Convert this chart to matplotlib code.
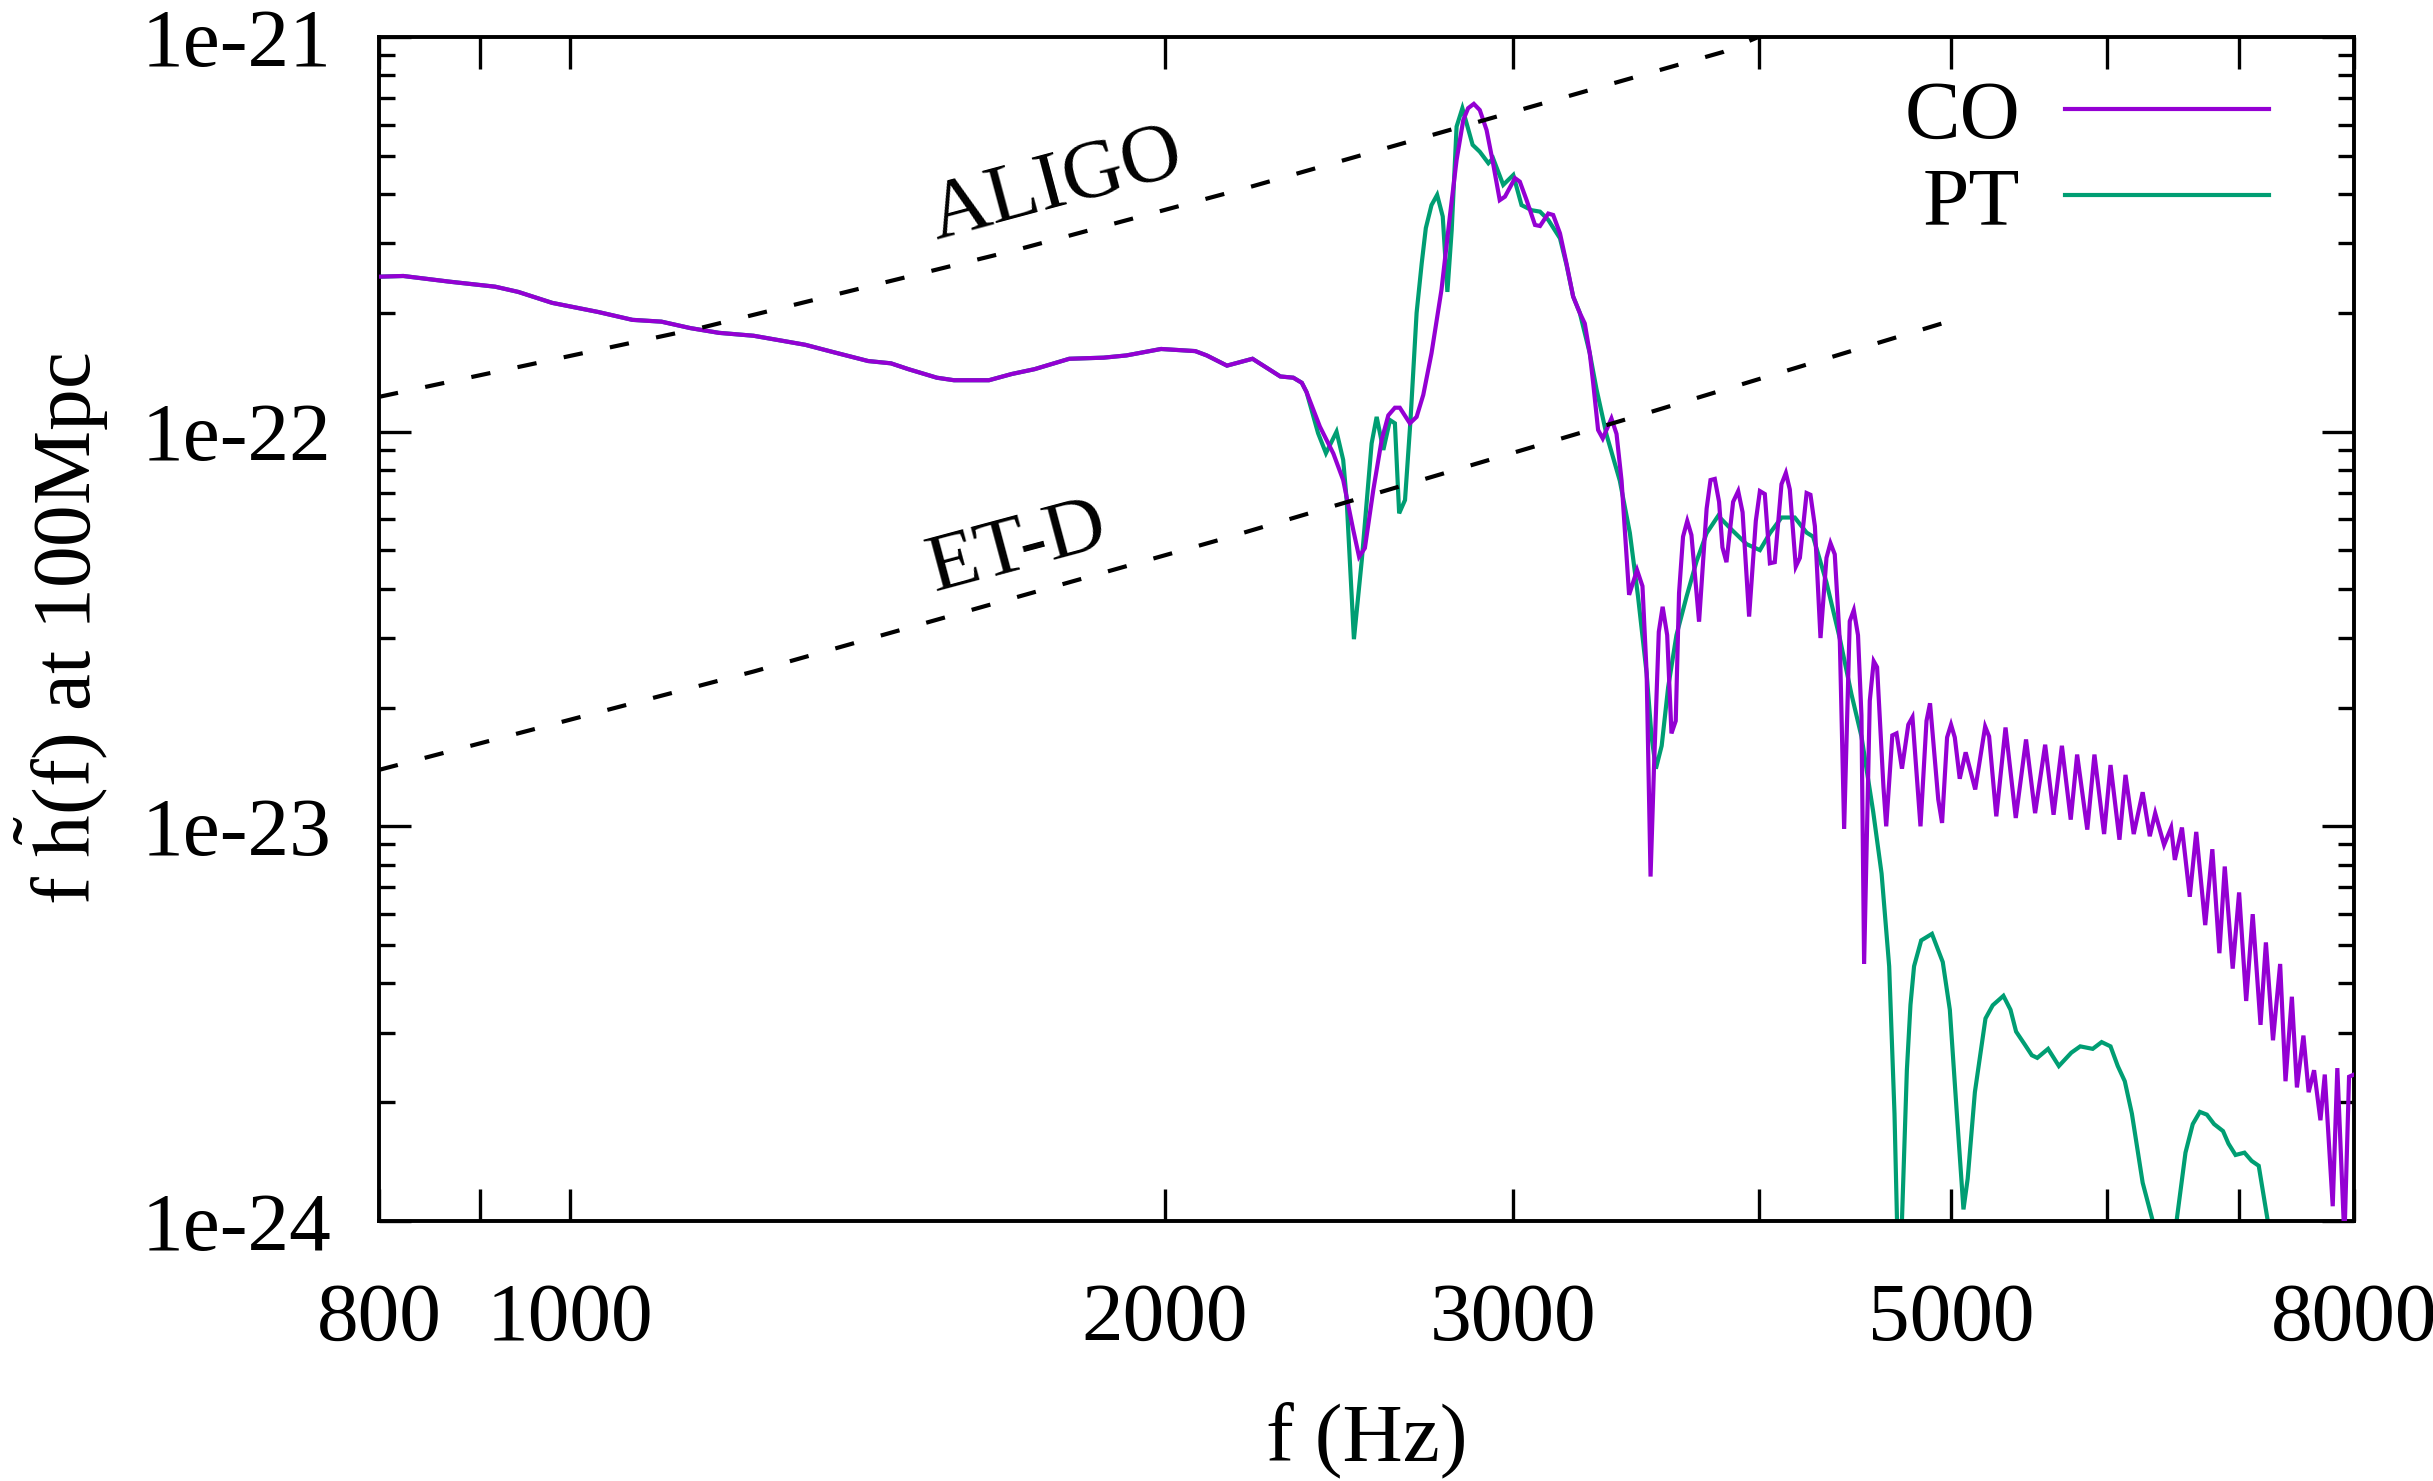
import matplotlib
matplotlib.use('Agg')
import matplotlib.pyplot as plt
from matplotlib.ticker import FixedLocator, FixedFormatter, LogLocator, NullFormatter, NullLocator

plt.rcParams['font.family'] = ['Liberation Serif', 'DejaVu Serif']
plt.rcParams['mathtext.fontset'] = 'stix'

# ---------------- data ----------------
# part shared by both models (f in Hz, f*h(f))
low_f = [800, 823, 868, 916, 941, 979, 1033, 1075, 1112, 1150,
         1189, 1238, 1280, 1315, 1359, 1415, 1453, 1483, 1533, 1564,
         1629, 1673, 1718, 1789, 1862, 1912, 1991, 2072, 2100, 2150,
         2215, 2288, 2323, 2346, 2359]
low_h = [2.47e-22, 2.48e-22, 2.40e-22, 2.33e-22, 2.26e-22, 2.12e-22, 2.01e-22, 1.92e-22, 1.90e-22, 1.83e-22,
         1.78e-22, 1.75e-22, 1.70e-22, 1.66e-22, 1.59e-22, 1.51e-22, 1.49e-22, 1.44e-22, 1.37e-22, 1.35e-22,
         1.35e-22, 1.40e-22, 1.44e-22, 1.53e-22, 1.54e-22, 1.56e-22, 1.62e-22, 1.60e-22, 1.56e-22, 1.47e-22,
         1.53e-22, 1.38e-22, 1.37e-22, 1.33e-22, 1.26e-22]

co_tail_f = [2396, 2434, 2462, 2491, 2508,
             2525, 2550, 2575, 2595, 2615, 2630, 2661, 2682, 2703, 2729,
             2761, 2788, 2810, 2832, 2848, 2867, 2887, 2910, 2932, 2955,
             2973, 3008, 3025, 3049, 3079, 3097, 3127, 3145, 3170, 3194,
             3219, 3244, 3263, 3282, 3295, 3314, 3332, 3366, 3386, 3406,
             3436, 3468, 3490, 3507, 3523, 3537, 3557, 3573, 3592, 3610,
             3628, 3642, 3659, 3677, 3695, 3728, 3761, 3778, 3797, 3816,
             3831, 3849, 3879, 3902, 3922, 3952, 3983, 4002, 4025, 4049,
             4072, 4104, 4125, 4144, 4173, 4193, 4226, 4245, 4267, 4295,
             4325, 4345, 4367, 4393, 4415, 4444, 4465, 4487, 4505, 4519,
             4549, 4570, 4588, 4622, 4637, 4670, 4693, 4723, 4758, 4781,
             4826, 4860, 4880, 4927, 4949, 4978, 5001, 5023, 5052, 5087,
             5144, 5204, 5228, 5272, 5329, 5393, 5458, 5516, 5581, 5636,
             5691, 5750, 5793, 5862, 5911, 5978, 6023, 6086, 6129, 6188,
             6253, 6305, 6345, 6411, 6464, 6492, 6546, 6606, 6656, 6726,
             6782, 6838, 6881, 6945, 6997, 7055, 7109, 7174, 7219, 7279,
             7340, 7386, 7441, 7485, 7542, 7588, 7636, 7693, 7732, 7804,
             7846, 7911, 7954, 8000]
co_tail_h = [1.03e-22, 8.8e-23, 7.54e-23, 5.64e-23, 4.82e-23,
             5.07e-23, 7.12e-23, 9.53e-23, 1.10e-22, 1.15e-22, 1.15e-22, 1.05e-22, 1.09e-22, 1.24e-22, 1.58e-22,
             2.29e-22, 3.51e-22, 4.88e-22, 6.16e-22, 6.60e-22, 6.77e-22, 6.53e-22, 5.81e-22, 4.79e-22, 3.86e-22,
             3.94e-22, 4.39e-22, 4.30e-22, 3.86e-22, 3.34e-22, 3.32e-22, 3.57e-22, 3.54e-22, 3.18e-22, 2.67e-22,
             2.20e-22, 2.00e-22, 1.88e-22, 1.58e-22, 1.33e-22, 1.01e-22, 9.61e-23, 1.08e-22, 9.87e-23, 7.51e-23,
             3.86e-23, 4.46e-23, 4.06e-23, 2.44e-23, 7.46e-24, 1.40e-23, 3.11e-23, 3.60e-23, 3.05e-23, 1.72e-23,
             1.85e-23, 3.90e-23, 5.42e-23, 5.94e-23, 5.47e-23, 3.30e-23, 6.38e-23, 7.54e-23, 7.59e-23, 6.64e-23,
             5.09e-23, 4.67e-23, 6.64e-23, 7.07e-23, 6.25e-23, 3.40e-23, 5.94e-23, 7.07e-23, 6.95e-23, 4.64e-23,
             4.67e-23, 7.36e-23, 7.86e-23, 7.14e-23, 4.55e-23, 4.79e-23, 6.99e-23, 6.92e-23, 5.76e-23, 3.00e-23,
             4.79e-23, 5.22e-23, 4.89e-23, 2.93e-23, 9.85e-24, 3.31e-23, 3.53e-23, 3.05e-23, 1.91e-23, 4.48e-24,
             2.08e-23, 2.62e-23, 2.53e-23, 1.26e-23, 1.00e-23, 1.70e-23, 1.72e-23, 1.40e-23, 1.81e-23, 1.89e-23,
             1.00e-23, 1.85e-23, 2.05e-23, 1.17e-23, 1.02e-23, 1.68e-23, 1.81e-23, 1.68e-23, 1.32e-23, 1.54e-23,
             1.24e-23, 1.79e-23, 1.69e-23, 1.06e-23, 1.78e-23, 1.05e-23, 1.66e-23, 1.08e-23, 1.61e-23, 1.07e-23,
             1.60e-23, 1.04e-23, 1.52e-23, 9.81e-24, 1.52e-23, 9.56e-24, 1.43e-23, 9.25e-24, 1.35e-23, 9.56e-24,
             1.22e-23, 9.44e-24, 1.08e-23, 8.97e-24, 9.93e-24, 8.22e-24, 9.93e-24, 6.63e-24, 9.68e-24, 5.62e-24,
             8.75e-24, 4.77e-24, 7.91e-24, 4.36e-24, 6.80e-24, 3.61e-24, 5.99e-24, 3.14e-24, 5.08e-24, 2.87e-24,
             4.48e-24, 2.26e-24, 3.70e-24, 2.18e-24, 2.95e-24, 2.12e-24, 2.41e-24, 1.80e-24, 2.35e-24, 1.09e-24,
             2.44e-24, 9.0e-25, 2.32e-24, 2.35e-24]

pt_tail_f = [2391, 2413, 2443, 2462, 2472, 2493, 2516, 2545, 2560, 2580,
             2600, 2615, 2628, 2646, 2663, 2682, 2698, 2711, 2729, 2747,
             2765, 2780, 2794, 2810, 2829, 2843, 2863, 2887, 2916, 2932,
             2967, 3002, 3031, 3067, 3097, 3127, 3170, 3194, 3219, 3244,
             3282, 3308, 3347, 3399, 3439, 3472, 3507, 3527, 3545, 3569, 3596,
             3631, 3674, 3717, 3761, 3812, 3873, 3940, 4002, 4049, 4104,
             4168, 4226, 4258, 4325, 4393, 4453, 4505, 4567, 4612, 4653,
             4682, 4707, 4750, 4770, 4790, 4830, 4891, 4953, 4994, 5035,
             5074, 5099, 5142, 5206, 5250, 5316, 5360, 5395, 5450, 5495,
             5530, 5600, 5671, 5754, 5814, 5899, 5961, 6023, 6074, 6124,
             6175, 6253, 6327, 6400, 6480, 6505, 6573, 6629, 6684, 6739,
             6796, 6867, 6911, 6968, 7041, 7100, 7159, 7235, 7300, 8000]
pt_tail_h = [9.91e-23, 8.82e-23, 1.00e-22, 8.48e-23, 6.71e-23, 2.98e-23, 4.73e-23, 9.34e-23, 1.09e-22, 8.99e-23,
             1.07e-22, 1.05e-22, 6.21e-23, 6.71e-23, 1.07e-22, 2.00e-22, 2.67e-22, 3.28e-22, 3.75e-22, 3.98e-22,
             3.51e-22, 2.26e-22, 3.24e-22, 5.93e-22, 6.60e-22, 6.04e-22, 5.33e-22, 5.12e-22, 4.79e-22, 4.93e-22,
             4.22e-22, 4.47e-22, 3.75e-22, 3.64e-22, 3.61e-22, 3.44e-22, 3.09e-22, 2.65e-22, 2.20e-22, 2.00e-22,
             1.58e-22, 1.28e-22, 9.81e-23, 7.51e-23, 5.54e-23, 3.82e-23, 2.44e-23, 1.69e-23, 1.40e-23, 1.60e-23, 2.25e-23,
             3.05e-23, 3.82e-23, 4.69e-23, 5.53e-23, 6.12e-23, 5.64e-23, 5.19e-23, 5.01e-23, 5.53e-23, 6.06e-23,
             6.06e-23, 5.55e-23, 5.42e-23, 4.15e-23, 2.99e-23, 2.16e-23, 1.69e-23, 1.09e-23, 7.59e-24, 4.42e-24,
             1.87e-24, 6.0e-25, 2.41e-24, 3.53e-24, 4.42e-24, 5.14e-24, 5.34e-24, 4.53e-24, 3.43e-24, 1.87e-24,
             1.07e-24, 1.28e-24, 2.12e-24, 3.26e-24, 3.52e-24, 3.72e-24, 3.43e-24, 3.02e-24, 2.80e-24, 2.63e-24,
             2.59e-24, 2.73e-24, 2.47e-24, 2.67e-24, 2.77e-24, 2.73e-24, 2.84e-24, 2.77e-24, 2.47e-24, 2.26e-24,
             1.87e-24, 1.25e-24, 1.0e-24, 4.0e-25, 4.0e-25, 1.0e-24, 1.49e-24, 1.76e-24, 1.89e-24, 1.86e-24,
             1.76e-24, 1.69e-24, 1.57e-24, 1.47e-24, 1.49e-24, 1.42e-24, 1.38e-24, 1.0e-24, 5.0e-25, 2.0e-25]

# detector sensitivity curves
aligo_f = [800, 1163, 1683, 2209, 3833, 3995]
aligo_h = [1.225e-22, 1.83e-22, 2.89e-22, 4.17e-22, 9.16e-22, 1.0e-21]
etd_f = [800, 1239, 2137, 3514, 4995]
etd_h = [1.39e-23, 2.47e-23, 5.34e-23, 1.117e-22, 1.907e-22]

series_labels = ['CO', 'PT']
curve_labels = ['ALIGO', 'ET-D']

xtick_vals = [800, 900, 1000, 2000, 3000, 4000, 5000, 6000, 7000, 8000]
xtick_labels = ['800', '', '1000', '2000', '3000', '', '5000', '', '', '8000']
ytick_vals = [1e-24, 1e-23, 1e-22, 1e-21]
ytick_labels = ['1e-24', '1e-23', '1e-22', '1e-21']

co_f = low_f + co_tail_f
co_h = low_h + co_tail_h
pt_f = low_f + pt_tail_f
pt_h = low_h + pt_tail_h

# ---------------- figure ----------------
W, H = 2433, 1481
fig = plt.figure(figsize=(W / 100, H / 100), dpi=100)
ax = fig.add_axes([379 / W, 1 - 1221 / H, 1975 / W, 1184 / H])
ax.set_xscale('log')
ax.set_yscale('log')

PURPLE = '#9400d3'
GREEN = '#009e73'
FS = 60
lw = 3.0

pt_line, = ax.plot(pt_f, pt_h, color=GREEN, lw=lw, zorder=2, solid_joinstyle='miter')
co_line, = ax.plot(co_f, co_h, color=PURPLE, lw=lw, zorder=3, solid_joinstyle='miter')
dash = (0, (14.0 / lw, 20.0 / lw))
ax.plot(aligo_f, aligo_h, color='black', lw=lw, ls=dash, zorder=4)
ax.plot(etd_f, etd_h, color='black', lw=lw, ls=dash, zorder=4)

ax.text(1761, 4.19e-22, curve_labels[0], fontsize=FS, rotation=15,
        ha='center', va='center', rotation_mode='anchor')
ax.text(1685, 5.04e-23, curve_labels[1], fontsize=FS, rotation=15,
        ha='center', va='center', rotation_mode='anchor')

ax.set_xlim(800, 8000)
ax.set_ylim(1e-24, 1e-21)

ax.xaxis.set_major_locator(FixedLocator(xtick_vals))
ax.xaxis.set_major_formatter(FixedFormatter(xtick_labels))
ax.xaxis.set_minor_locator(NullLocator())
ax.yaxis.set_major_locator(FixedLocator(ytick_vals))
ax.yaxis.set_major_formatter(FixedFormatter(ytick_labels))
ax.yaxis.set_minor_locator(LogLocator(base=10, subs=range(2, 10), numticks=30))
ax.yaxis.set_minor_formatter(NullFormatter())

ax.tick_params(which='both', direction='in', top=True, right=True,
               width=2.4, labelsize=FS, color='black')
ax.tick_params(which='major', length=23)
ax.tick_params(which='minor', length=11.5)
ax.tick_params(axis='x', which='major', pad=44)
ax.tick_params(axis='y', which='major', pad=34)
for s in ax.spines.values():
    s.set_linewidth(2.8)

ax.set_xlabel('f (Hz)', fontsize=FS, va='center')
ax.xaxis.set_label_coords(0.5, -(1440 - 1221) / 1184)
ax.set_ylabel(r'f $\tilde{\mathrm{h}}$(f) at 100Mpc', fontsize=FS, va='center')
ax.yaxis.set_label_coords(-(379 - 62) / 1975, 0.5)

ax.legend([co_line, pt_line], series_labels, loc='upper right',
          bbox_to_anchor=(0.957, 0.964), frameon=False, markerfirst=False,
          fontsize=FS, handlelength=2.45, handletextpad=0.54,
          labelspacing=0.12, borderpad=0, borderaxespad=0)

fig.savefig('out.png', dpi=100)
